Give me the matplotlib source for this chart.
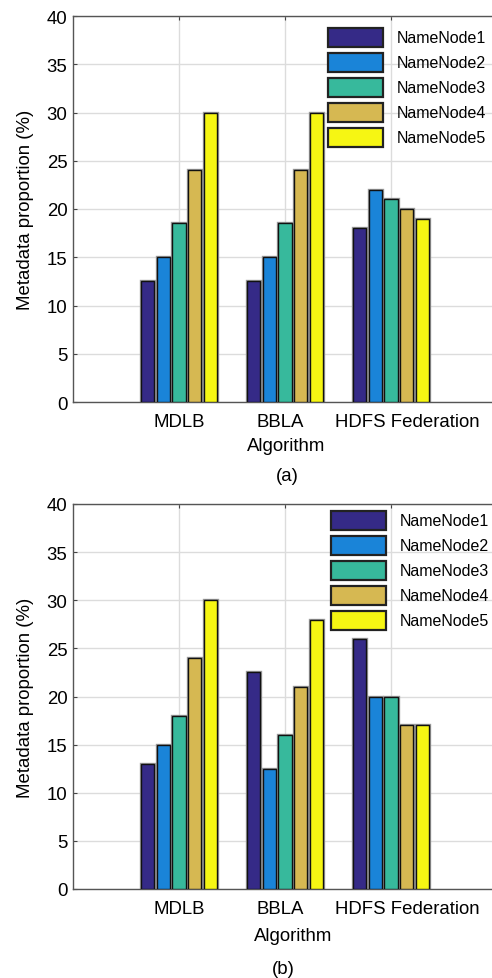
import matplotlib
matplotlib.use("Agg")
import matplotlib.pyplot as plt
import matplotlib.transforms as mtransforms
import numpy as np

plt.rcParams['font.family'] = ['Liberation Sans', 'DejaVu Sans']

algorithms = ["MDLB", "BBLA", "HDFS Federation"]
series_names = ["NameNode1", "NameNode2", "NameNode3", "NameNode4", "NameNode5"]
values_a = [
    [12.5, 12.5, 18],   # NameNode1
    [15, 15, 22],       # NameNode2
    [18.5, 18.5, 21],   # NameNode3
    [24, 24, 20],       # NameNode4
    [30, 30, 19],       # NameNode5
]
values_b = [
    [13, 22.5, 26],
    [15, 12.5, 20],
    [18, 16, 20],
    [24, 21, 17],
    [30, 28, 17],
]
colors = ["#352A87", "#1A84D8", "#37B99C", "#D6B852", "#F6F613"]
yticks = [0, 5, 10, 15, 20, 25, 30, 35, 40]

W, H = 492, 979
FS = 13.4
fig = plt.figure(figsize=(W / 100, H / 100), dpi=100)

# small horizontal nudges (px) of the category labels, as in the original
label_shift_px = [0, -5, 16]

def make_panel(rect, values, panel_label, xlabel_pos, label_pos, legend_anchor):
    ax = fig.add_axes(rect)
    x = np.arange(1, len(algorithms) + 1)
    pitch = 0.148
    width = 0.128
    for i, (name, vals) in enumerate(zip(series_names, values)):
        off = (i - 2) * pitch
        ax.bar(x + off, vals, width, color="none", edgecolor="#9a9a9a",
               linewidth=2.4, zorder=2)
        ax.bar(x + off, vals, width, color=colors[i], edgecolor="#111111",
               linewidth=1.0, label=name, zorder=3)
    ax.set_xlim(0, 4)
    ax.set_ylim(0, 40)
    ax.set_xticks(x)
    ax.set_xticklabels(algorithms, fontsize=FS)
    ax.set_yticks(yticks)
    ax.set_yticklabels([str(t) for t in yticks], fontsize=FS)
    ax.tick_params(direction="in", length=3, top=True, right=True,
                   color="#444444", pad=4)
    ax.tick_params(axis="x", pad=8)
    for lab, dx in zip(ax.get_xticklabels(), label_shift_px):
        lab.set_transform(lab.get_transform() +
                          mtransforms.ScaledTranslation(dx / 100, 0,
                                                        fig.dpi_scale_trans))
    ax.grid(True, color="#dcdcdc", linewidth=1.0, zorder=0)
    ax.set_axisbelow(True)
    for s in ax.spines.values():
        s.set_color("#555555")
        s.set_linewidth(1.0)
    ax.set_ylabel("Metadata proportion (%)", fontsize=FS, labelpad=9)
    fig.text(xlabel_pos[0] / W, 1 - xlabel_pos[1] / H, "Algorithm",
             ha="center", va="center", fontsize=FS)
    fig.text(label_pos[0] / W, 1 - label_pos[1] / H, panel_label,
             ha="center", va="center", fontsize=FS)
    leg = ax.legend(loc="upper left", bbox_to_anchor=legend_anchor,
                    bbox_transform=fig.transFigure, frameon=False,
                    fontsize=11.5, handlelength=3.44, handleheight=1.454,
                    labelspacing=0.376, handletextpad=0.85, borderpad=0,
                    borderaxespad=0)
    for p in leg.get_patches():
        p.set_edgecolor("#222222")
        p.set_linewidth(1.6)
    return ax

make_panel([73 / W, 1 - 403 / H, (497 - 73) / W, (403 - 17) / H], values_a,
           "(a)", (286, 447), (287, 477), (328 / W, 1 - 28.5 / H))
make_panel([73 / W, 1 - 890 / H, (497 - 73) / W, (890 - 505) / H], values_b,
           "(b)", (293, 937), (283, 970), (331 / W, 1 - 511.5 / H))

fig.savefig("out.png", dpi=100)
